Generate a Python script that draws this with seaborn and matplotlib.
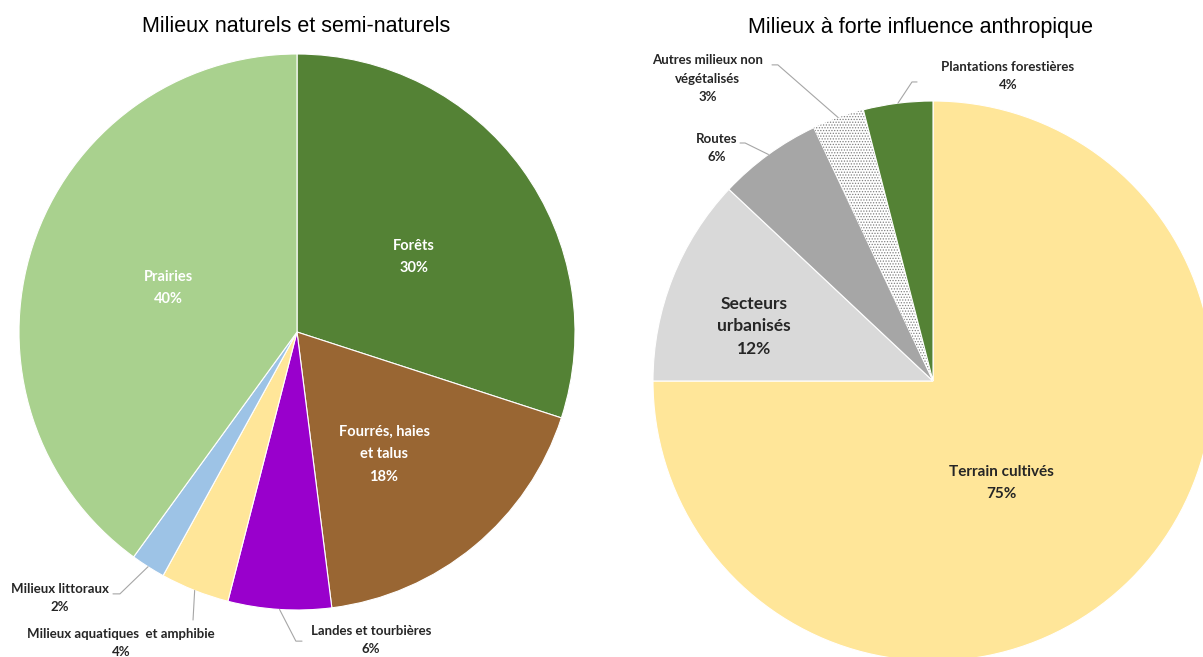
import numpy as np
import seaborn as sns
import matplotlib.pyplot as plt

# left pie: milieux naturels et semi-naturels (clockwise from 12 o'clock)
nat_labels = ["Forêts", "Fourrés, haies\net talus", "Landes et tourbières",
              "Milieux aquatiques  et amphibie", "Milieux littoraux", "Prairies"]
nat_values = [30, 18, 6, 4, 2, 40]
nat_colors = ["#548235", "#996633", "#9900CC", "#FFE699", "#9DC3E6", "#A9D18E"]

# right pie: milieux à forte influence anthropique
anth_labels = ["Terrain cultivés", "Secteurs\nurbanisés", "Routes",
               "Autres milieux non\nvégétalisés", "Plantations forestières"]
anth_values = [75, 12, 6, 3, 4]
anth_colors = ["#FFE699", "#D9D9D9", "#A6A6A6", "#FFFFFF", "#548235"]

sns.set_theme(style="white")
plt.rcParams['font.family'] = ['Lato', 'DejaVu Sans']
plt.rcParams['hatch.linewidth'] = 0.6

W, H = 1203, 657
fig = plt.figure(figsize=(W / 100, H / 100), dpi=100)


def pie_axes(cx, cy, r):
    ax = fig.add_axes([(cx - r) / W, (H - cy - r) / H, 2 * r / W, 2 * r / H])
    return ax


def mid_point(values, i):
    start = 90 - 360 * sum(values[:i]) / sum(values)
    ang = np.deg2rad(start - 180 * values[i] / sum(values))
    return np.cos(ang), np.sin(ang)


def draw_pie(ax, values, colors):
    wedges, _ = ax.pie(values, colors=colors, startangle=90, counterclock=False,
                       radius=1, wedgeprops=dict(edgecolor="white", linewidth=0.8))
    ax.set_xlim(-1, 1)
    ax.set_ylim(-1, 1)
    ax.set_aspect("auto")
    ax.axis("off")
    return wedges


def inner(ax, x, y, text, color, size, ls=1.75):
    ax.text(x, y, text, ha="center", va="center", color=color, fontsize=size,
            fontweight="bold", linespacing=ls)


def outer(ax, values, i, text, x, y, path):
    px, py = mid_point(values, i)
    xs = [px] + [p[0] for p in path]
    ys = [py] + [p[1] for p in path]
    ax.plot(xs, ys, color="#A6A6A6", lw=0.8, clip_on=False)
    ax.text(x, y, text, ha="center", va="center", color="#262626", fontsize=9.5,
            fontweight="bold", linespacing=1.65, clip_on=False)


# left
ax1 = pie_axes(297, 332, 278)
draw_pie(ax1, nat_values, nat_colors)
pct = [f"{v}%" for v in nat_values]
inner(ax1, 0.42, 0.27, nat_labels[0] + "\n" + pct[0], "white", 10.5)
inner(ax1, 0.313, -0.44, nat_labels[1] + "\n" + pct[1], "white", 10.5)
inner(ax1, -0.464, 0.158, nat_labels[5] + "\n" + pct[5], "white", 10.5)
outer(ax1, nat_values, 2, nat_labels[2] + "\n" + pct[2], 0.266, -1.108,
      [(-0.004, -1.112), (0.018, -1.112)])
outer(ax1, nat_values, 3, nat_labels[3] + "\n" + pct[3], -0.633, -1.119,
      [(-0.374, -1.036)])
outer(ax1, nat_values, 4, nat_labels[4] + "\n" + pct[4], -0.853, -0.957,
      [(-0.637, -0.942), (-0.662, -0.942)])

# right
ax2 = pie_axes(933, 381, 280)
wedges = draw_pie(ax2, anth_values, anth_colors)
wedges[3].set_edgecolor("#808080")
wedges[3].set_linewidth(0)
wedges[3].set_hatch("......")
pct = [f"{v}%" for v in anth_values]
inner(ax2, 0.246, -0.364, anth_labels[0] + "\n" + pct[0], "#262626", 11)
inner(ax2, -0.639, 0.196, anth_labels[1] + "\n" + pct[1], "#262626", 12.5, 1.5)
outer(ax2, anth_values, 2, anth_labels[2] + "\n" + pct[2], -0.771, 0.832,
      [(-0.671, 0.85), (-0.689, 0.85)])
outer(ax2, anth_values, 3, anth_labels[3] + "\n" + pct[3], -0.804, 1.079,
      [(-0.554, 1.129), (-0.575, 1.129)])
outer(ax2, anth_values, 4, anth_labels[4] + "\n" + pct[4], 0.268, 1.089,
      [(-0.075, 1.068), (-0.057, 1.068)])

title_font = ['Liberation Sans', 'DejaVu Sans']
fig.text(296 / W, 1 - 27 / H, "Milieux naturels et semi-naturels", ha="center",
         va="center", fontsize=15.5, family=title_font, color="black")
fig.text(921 / W, 1 - 27 / H, "Milieux à forte influence anthropique", ha="center",
         va="center", fontsize=15.5, family=title_font, color="black")

fig.savefig("out.png", dpi=100)
